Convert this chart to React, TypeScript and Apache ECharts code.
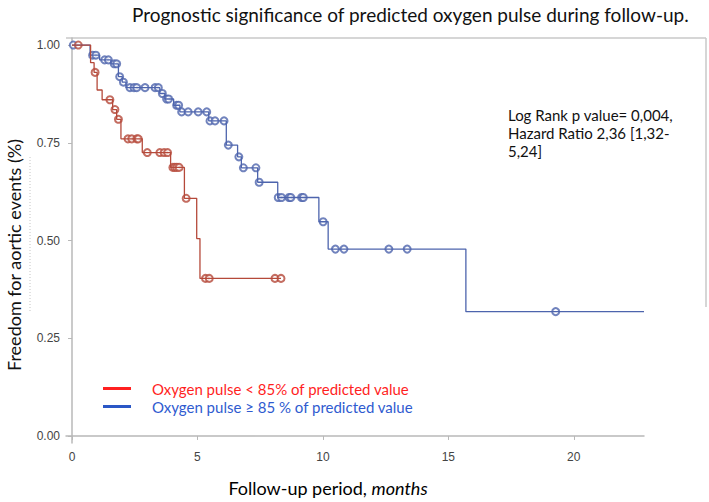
import React, { useEffect, useRef } from "react";
import * as echarts from "echarts";

const titleText = "Prognostic significance of predicted oxygen pulse during follow-up.";
const redName = "Oxygen pulse < 85% of predicted value";
const blueName = "Oxygen pulse \u2265 85 % of predicted value";
const statLines = ["Log Rank p value= 0,004,", "Hazard Ratio 2,36 [1,32-", "5,24]"];

const xTicks = [0, 5, 10, 15, 20];
const yTicks = [0, 0.25, 0.5, 0.75, 1];

// Kaplan-Meier steps: time (months) and survival after that time
const redTimes = [0, 0.74, 0.88, 1.0, 1.2, 1.62, 1.78, 1.95, 2.8, 3.93, 4.48, 4.97, 5.1, 8.33];
const redSurv = [1, 0.955, 0.93, 0.885, 0.86, 0.835, 0.81, 0.76, 0.725, 0.687, 0.608, 0.505, 0.403, 0.403];
const redCensor = [0.25, 0.92, 1.51, 1.71, 1.85, 2.23, 2.38, 2.58, 2.64, 3.0, 3.5, 3.67, 3.81, 4.02, 4.1, 4.18, 4.27, 4.55, 5.32, 5.47, 8.09, 8.33];

const blueTimes = [0, 0.72, 1.1, 1.55, 1.85, 2.0, 2.15, 3.5, 3.7, 4.05, 4.3, 5.45, 6.15, 6.6, 6.75, 7.4, 8.2, 9.84, 10.21, 15.7, 22.8];
const blueSurv = [1, 0.974, 0.962, 0.952, 0.919, 0.905, 0.891, 0.876, 0.862, 0.846, 0.829, 0.806, 0.744, 0.714, 0.686, 0.649, 0.61, 0.548, 0.478, 0.318, 0.318];
const blueCensor = [0.05, 0.82, 0.95, 1.3, 1.45, 1.68, 1.78, 1.9, 2.05, 2.31, 2.47, 2.58, 2.91, 3.31, 3.44, 3.6, 3.77, 3.85, 4.17, 4.25, 4.37, 4.63, 5.03, 5.37, 5.5, 5.7, 6.06, 6.23, 6.65, 6.83, 7.33, 7.46, 8.22, 8.35, 8.65, 8.72, 9.15, 9.22, 10.01, 10.5, 10.84, 12.63, 13.36, 19.28];

const RED_LINE = "#b5493a";
const BLUE_LINE = "#4d64ad";

function survAt(times: number[], surv: number[], t: number) {
  let v = surv[0];
  for (let i = 0; i < times.length; i++) {
    if (times[i] <= t) v = surv[i];
  }
  return v;
}

export default function App() {
  const ref = useRef<HTMLDivElement>(null);
  useEffect(() => {
    document.body.style.margin = "0";
    if (!ref.current) return;
    const chart = echarts.init(ref.current, undefined, { renderer: "svg" });
    const font = "Lato, 'Noto Sans', sans-serif";
    const axisColor = "#b8b8b8";
    chart.setOption({
      animation: false,
      backgroundColor: "#ffffff",
      title: {
        text: titleText,
        left: 127,
        top: 0,
        textStyle: { fontSize: 19, fontWeight: "normal", fontFamily: font, color: "#111" },
      },
      grid: { left: 66, right: 65, top: 38, bottom: 59, containLabel: false },
      xAxis: {
        type: "value",
        min: -0.24,
        max: 22.8,
        axisLine: { show: true, lineStyle: { color: axisColor, width: 1.5 } },
        axisTick: { show: true, length: 4, customValues: xTicks, lineStyle: { color: axisColor } },
        axisLabel: { customValues: xTicks, fontSize: 12, color: "#444", margin: 8, fontFamily: "'Liberation Sans', Arial" },
        splitLine: { show: false },
      },
      yAxis: {
        type: "value",
        min: -0.018,
        max: 1.018,
        axisLine: { show: true, lineStyle: { color: axisColor, width: 1.5 } },
        axisTick: { show: true, length: 4, customValues: yTicks, lineStyle: { color: axisColor } },
        axisLabel: {
          customValues: yTicks,
          fontSize: 12,
          color: "#444",
          margin: 6,
          fontFamily: "'Liberation Sans', Arial",
          formatter: (v: number) => v.toFixed(2),
        },
        splitLine: { show: false },
      },
      legend: {
        orient: "vertical",
        left: 98,
        top: 376,
        itemWidth: 28,
        itemHeight: 3,
        itemGap: 3,
        icon: "rect",
        textStyle: { fontSize: 15, fontFamily: font, padding: [0, 0, 0, 16] },
        data: [
          { name: redName, itemStyle: { color: "#ff2020" }, textStyle: { color: "#ff1f1f" } },
          { name: blueName, itemStyle: { color: "#2a57c6" }, textStyle: { color: "#2f5bd0" } },
        ],
      },
      series: [
        {
          name: blueName,
          type: "line",
          step: "end",
          showSymbol: false,
          lineStyle: { color: BLUE_LINE, width: 1.3 },
          itemStyle: { color: BLUE_LINE },
          data: blueTimes.map((t, i) => [t, blueSurv[i]]),
        },
        {
          name: blueName,
          type: "scatter",
          symbol: "emptyCircle",
          symbolSize: 7,
          itemStyle: { color: BLUE_LINE, borderColor: BLUE_LINE, borderWidth: 1 },
          data: blueCensor.map((t) => [t, survAt(blueTimes, blueSurv, t)]),
        },
        {
          name: redName,
          type: "line",
          step: "end",
          showSymbol: false,
          lineStyle: { color: RED_LINE, width: 1.3 },
          itemStyle: { color: RED_LINE },
          data: redTimes.map((t, i) => [t, redSurv[i]]),
        },
        {
          name: redName,
          type: "scatter",
          symbol: "emptyCircle",
          symbolSize: 7,
          itemStyle: { color: RED_LINE, borderColor: RED_LINE, borderWidth: 1 },
          data: redCensor.map((t) => [t, survAt(redTimes, redSurv, t)]),
        },
      ],
      graphic: [
        { type: "line", shape: { x1: 66, y1: 38, x2: 706, y2: 38 }, style: { stroke: "#c8c8c8", lineWidth: 1.5 }, silent: true },
        { type: "line", shape: { x1: 706, y1: 38, x2: 706, y2: 307 }, style: { stroke: "#c8c8c8", lineWidth: 1.5 }, silent: true },
        { type: "line", shape: { x1: 30, y1: 157, x2: 30, y2: 312 }, style: { stroke: "#c4c4c4", lineWidth: 1, lineDash: [1, 2] }, silent: true },
        {
          type: "text",
          x: 14,
          y: 255,
          rotation: Math.PI / 2,
          style: {
            text: "Freedom for aortic events (%)",
            font: "18px Lato, sans-serif",
            fill: "#111",
            align: "center",
            verticalAlign: "middle",
          },
        },
        {
          type: "text",
          x: 328,
          y: 488,
          style: {
            text: "{n|Follow-up period, }{i|months}",
            align: "center",
            verticalAlign: "middle",
            rich: {
              n: { fontSize: 18, fontFamily: "Lato", color: "#111" },
              i: { fontSize: 18, fontFamily: "Lato", fontStyle: "italic", color: "#111" },
            },
          },
        },
        {
          type: "text",
          x: 508,
          y: 106,
          style: {
            text: statLines.join("\n"),
            font: "15px Lato, sans-serif",
            lineHeight: 18,
            fill: "#111",
          },
        },
      ],
    });
    return () => chart.dispose();
  }, []);
  return <div ref={ref} style={{ width: 709, height: 502 }} />;
}
